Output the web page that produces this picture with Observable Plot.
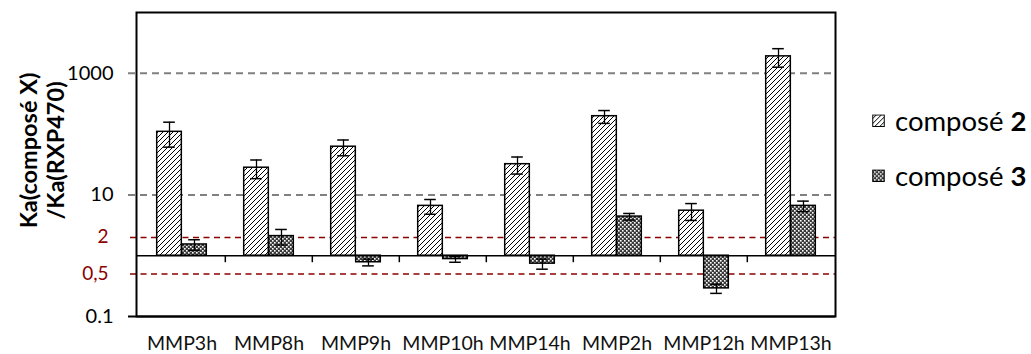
<!DOCTYPE html>
<html>
<head>
<meta charset="utf-8">
<script src="https://cdn.jsdelivr.net/npm/d3@7"></script>
<script src="https://cdn.jsdelivr.net/npm/@observablehq/plot@0.6"></script>
<style>
  html, body { margin: 0; padding: 0; background: #fff; }
  #wrap { position: relative; width: 1031px; height: 354px; font-family: Lato, "Open Sans", sans-serif; }
  #legend { position: absolute; left: 872px; top: 0; }
  .item { position: absolute; left: 0; transform: translateY(-50%); white-space: nowrap; font-size: 27.5px; line-height: 1; color: #000; display: flex; align-items: center; }
  .item svg { margin-right: 10px; }
</style>
</head>
<body>
<svg width="0" height="0" style="position:absolute">
  <defs>
    <pattern id="hatch2" patternUnits="userSpaceOnUse" width="5" height="5">
      <rect width="5" height="5" fill="#fff"/>
      <path d="M-1,1 L1,-1 M0,5 L5,0 M4,6 L6,4" stroke="#000" stroke-width="1"/>
    </pattern>
    <pattern id="check3" patternUnits="userSpaceOnUse" width="4" height="4">
      <rect width="4" height="4" fill="#3a3a3a"/>
      <rect x="0" y="0" width="1.6" height="1.6" fill="#fff"/>
      <rect x="2" y="2" width="1.6" height="1.6" fill="#fff"/>
    </pattern>
  </defs>
</svg>
<div id="wrap">
  <div id="chart"></div>
  <div id="legend"></div>
</div>
<script>
// ---- data ----
const categories = ["MMP3h", "MMP8h", "MMP9h", "MMP10h", "MMP14h", "MMP2h", "MMP12h", "MMP13h"];
const compose2 = [109, 28, 62, 6.6, 32, 197, 5.5, 1900];
const error2   = [48, 9.5, 18, 1.8, 10, 47, 1.7, 640];
const compose3 = [1.53, 2.1, 0.78, 0.88, 0.74, 4.4, 0.29, 6.6];
const error3   = [0.3, 0.6, 0.1, 0.1, 0.14, 0.55, 0.05, 1.3];
const seriesNames = ["composé 2", "composé 3"];
const gridTicks = [1000, 10];
const redTicks = [2, 0.5];
const redTickLabels = ["2", "0,5"];
const blackTicks = [1000, 10, 0.1];
const blackTickLabels = ["1000", "10", "0.1"];

// ---- layout ----
const W = 1031, H = 354;
const mL = 136, mR = 196, mT = 12, mB = 38;
const bw = (W - mL - mR) / categories.length;
const outer = 18.7, barW = (bw - 2 * outer) / 2, cap = 12;

const rows2 = categories.map((c, i) => ({cat: c, v: compose2[i], lo: compose2[i] - error2[i], hi: compose2[i] + error2[i]}));
const rows3 = categories.map((c, i) => ({cat: c, v: compose3[i], lo: compose3[i] - error3[i], hi: compose3[i] + error3[i]}));
const blackRows = blackTicks.map((v, i) => ({v, label: blackTickLabels[i]}));
const redRows = redTicks.map((v, i) => ({v, label: redTickLabels[i]}));

const c2 = outer + barW / 2, c3 = outer + 1.5 * barW;

function errMarks(rows, center) {
  const dx = center - bw / 2;
  const capOpts = {x: "cat", insetLeft: center - cap / 2, insetRight: bw - center - cap / 2, stroke: "#000", strokeWidth: 1.5};
  return [
    Plot.ruleX(rows, {x: "cat", y1: "lo", y2: "hi", dx, stroke: "#000", strokeWidth: 1.3}),
    Plot.tickY(rows, {...capOpts, y: "hi"}),
    Plot.tickY(rows, {...capOpts, y: "lo"})
  ];
}

const plot = Plot.plot({
  width: W, height: H,
  marginLeft: mL, marginRight: mR, marginTop: mT, marginBottom: mB,
  style: {fontFamily: "Lato, 'Open Sans', sans-serif", color: "#000", background: "transparent"},
  x: {type: "band", domain: categories, padding: 0, axis: null},
  y: {type: "log", domain: [0.1, 10000], axis: null},
  marks: [
    Plot.ruleY(gridTicks, {stroke: "#808080", strokeWidth: 2, strokeDasharray: "7,5", insetLeft: -8}),
    Plot.ruleY(redTicks, {stroke: "#8B0000", strokeWidth: 1.5, strokeDasharray: "6,4.5", insetLeft: -6}),
    Plot.ruleY([0.1], {stroke: "#000", strokeWidth: 2, insetLeft: -8}),
    Plot.barY(rows2, {x: "cat", y1: 1, y2: "v", fill: "url(#hatch2)", stroke: "#000", strokeWidth: 1.5,
      insetLeft: outer, insetRight: bw - outer - barW}),
    Plot.barY(rows3, {x: "cat", y1: 1, y2: "v", fill: "url(#check3)", stroke: "#000", strokeWidth: 1.5,
      insetLeft: outer + barW, insetRight: outer}),
    ...errMarks(rows2, c2),
    ...errMarks(rows3, c3),
    Plot.ruleY([1], {stroke: "#000", strokeWidth: 1.5}),
    Plot.ruleX(categories.slice(1), {x: d => d, dx: -bw / 2, y1: 1, y2: 1, insetBottom: -7, stroke: "#000", strokeWidth: 1.5}),
    Plot.text(blackRows, {y: "v", text: "label", frameAnchor: "left", dx: -23, textAnchor: "end", fontSize: 20, fill: "#000"}),
    Plot.text(redRows, {y: "v", text: "label", frameAnchor: "left", dx: -28, textAnchor: "end", fontSize: 19, fill: "#8B0000"}),
    Plot.text(categories, {x: d => d, text: d => d, frameAnchor: "bottom", lineAnchor: "middle", dy: 27,
      fontSize: 19.5, fill: "#111"}),
    Plot.text(["Ka(composé X)\n/Ka(RXP470)"], {frameAnchor: "left", textAnchor: "middle", lineAnchor: "middle",
      rotate: -90, dx: -95, dy: -14, fontWeight: "bold", fontSize: 23.5, lineHeight: 1.15}),
    Plot.frame({stroke: "#000", strokeWidth: 2})
  ]
});
document.getElementById("chart").appendChild(plot);

// legend
const legend = d3.select("#legend");
const legendCenters = [121, 176];
seriesNames.forEach((name, i) => {
  const item = legend.append("div").attr("class", "item").style("top", legendCenters[i] + "px");
  const sw = item.append("svg").attr("width", 13).attr("height", 13);
  sw.append("rect").attr("x", 0.75).attr("y", 0.75).attr("width", 11.5).attr("height", 11.5)
    .attr("fill", i === 0 ? "url(#hatch2)" : "url(#check3)").attr("stroke", "#000").attr("stroke-width", 1);
  const parts = name.split(" ");
  item.append("span").text(parts[0]);
  item.append("b").style("margin-left", "0.25em").text(parts[1]);
});
</script>
</body>
</html>
